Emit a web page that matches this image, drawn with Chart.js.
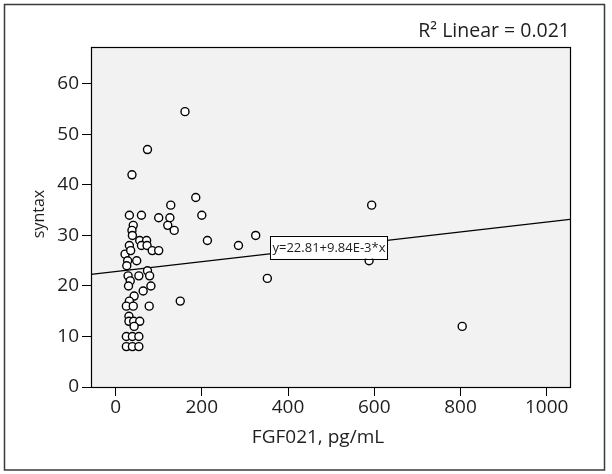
<!DOCTYPE html>
<html>
<head>
<meta charset="utf-8">
<script src="https://cdn.jsdelivr.net/npm/chart.js@4/dist/chart.umd.min.js"></script>
<style>
  html, body { margin: 0; padding: 0; background: #fff; }
  canvas { display: block; }
</style>
</head>
<body>
<canvas id="chart" width="612" height="474"></canvas>
<script>
// data
const fgf021 = [
  161, 74, 38, 186, 128, 32, 60, 100, 126, 200,
  41, 121, 38, 136, 39, 213, 56, 72, 32, 60,
  73, 85, 100, 285, 325, 594, 588, 352, 804, 22,
  35, 28, 49, 26, 29, 54, 74, 79, 34, 30,
  82, 64, 43, 32, 25, 41, 78, 150, 31, 31,
  42, 56, 43, 25, 39, 54, 25, 39, 54
]
const syntax = [
  54.5, 47, 42, 37.5, 36, 34, 34, 33.5, 33.5, 34,
  32, 32, 31, 31, 30, 29, 29, 29, 28, 28,
  28, 27, 27, 28, 30, 36, 25, 21.5, 12, 26.3,
  27, 25, 25, 24, 22, 22, 23, 22, 21, 20,
  20, 19, 18, 17, 16, 16, 16, 17, 14, 13,
  13, 13, 12, 10, 10, 10, 8, 8, 8
]
// fit line ends (left / right edge of the plot)
const fitX = [-57, 1054]
const fitY = [22.3, 33.2]

const xTicks = [0, 200, 400, 600, 800, 1000]
const yTicks = [0, 10, 20, 30, 40, 50, 60]

const fitLabel = 'y=22.81+9.84E-3*x'
const fitLabelAt = { x: 495, y: 27.7 }
const r2Text = 'R\u00B2 Linear = 0.021'
const xTitle = 'FGF021, pg/mL'
const yTitle = 'syntax'

const FONT = '"Open Sans", "DejaVu Sans", sans-serif'
const INK = '#1e1e1e'

// frame, plot background, texts
const decor = {
  id: 'decor',
  beforeDraw(chart) {
    const { ctx, chartArea: a } = chart
    ctx.save()
    ctx.fillStyle = '#fff'
    ctx.fillRect(0, 0, chart.width, chart.height)
    ctx.fillStyle = '#f2f2f2'
    ctx.fillRect(a.left, a.top, a.right - a.left, a.bottom - a.top)
    ctx.restore()
  },
  afterDatasetsDraw(chart) {
    const { ctx, chartArea: a, scales } = chart
    ctx.save()
    // plot border
    ctx.strokeStyle = '#000'
    ctx.lineWidth = 1.2
    ctx.strokeRect(a.left + 0.5, a.top + 0.5, a.right - a.left, a.bottom - a.top)
    // outer frame
    ctx.strokeStyle = '#3a3a3a'
    ctx.lineWidth = 1.5
    ctx.strokeRect(4.5, 4.5, 600, 465.5)

    // fit equation box
    const cx = scales.x.getPixelForValue(fitLabelAt.x)
    const cy = scales.y.getPixelForValue(fitLabelAt.y)
    ctx.font = '13px ' + FONT
    const w = 117, h = 23
    ctx.fillStyle = '#fff'
    ctx.fillRect(cx - w / 2, cy - h / 2, w, h)
    ctx.strokeStyle = '#000'
    ctx.lineWidth = 1
    ctx.strokeRect(Math.round(cx - w / 2) + 0.5, Math.round(cy - h / 2) + 0.5, w, h)
    ctx.fillStyle = INK
    ctx.textAlign = 'center'
    ctx.textBaseline = 'middle'
    ctx.fillText(fitLabel, cx, cy + 1)

    // R2 note
    ctx.font = '19.5px ' + FONT
    ctx.textAlign = 'right'
    ctx.fillText(r2Text, a.right, 31)

    // axis titles
    ctx.textAlign = 'center'
    ctx.font = '19px ' + FONT
    ctx.fillText(xTitle, 318, 438)
    ctx.translate(39, 214)
    ctx.rotate(-Math.PI / 2)
    ctx.font = '16px ' + FONT
    ctx.fillText(yTitle, 0, 0)
    ctx.restore()
  },
}

new Chart(document.getElementById('chart'), {
  type: 'scatter',
  data: {
    datasets: [
      {
        type: 'scatter',
        data: fgf021.map((x, i) => ({ x, y: syntax[i] })),
        pointRadius: 4,
        pointBorderWidth: 1.4,
        pointBackgroundColor: '#fff',
        pointBorderColor: '#000',
        order: 0,
      },
      {
        type: 'line',
        data: fitX.map((x, i) => ({ x, y: fitY[i] })),
        borderColor: '#000',
        borderWidth: 1.2,
        pointRadius: 0,
        fill: false,
        order: 1,
      },
    ],
  },
  options: {
    responsive: false,
    animation: false,
    layout: { padding: { top: 47, right: 42, left: 0, bottom: 0 } },
    plugins: { legend: { display: false }, title: { display: false }, tooltip: { enabled: false } },
    scales: {
      x: {
        type: 'linear',
        min: -57,
        max: 1054,
        afterBuildTicks: (s) => { s.ticks = xTicks.map((v) => ({ value: v })) },
        afterFit: (s) => { s.height = 87 },
        border: { display: false },
        grid: { drawOnChartArea: false, drawTicks: true, tickLength: 9, color: '#000' },
        ticks: { color: INK, font: { family: FONT, size: 19 }, padding: 0, maxRotation: 0, callback: (v) => String(v) },
      },
      y: {
        type: 'linear',
        min: 0,
        max: 67.3,
        afterBuildTicks: (s) => { s.ticks = yTicks.map((v) => ({ value: v })) },
        afterFit: (s) => { s.width = 91 },
        border: { display: false },
        grid: { drawOnChartArea: false, drawTicks: true, tickLength: 9, color: '#000' },
        ticks: { color: INK, font: { family: FONT, size: 19 }, padding: 3, callback: (v) => String(v) },
      },
    },
  },
  plugins: [decor],
})
</script>
</body>
</html>
